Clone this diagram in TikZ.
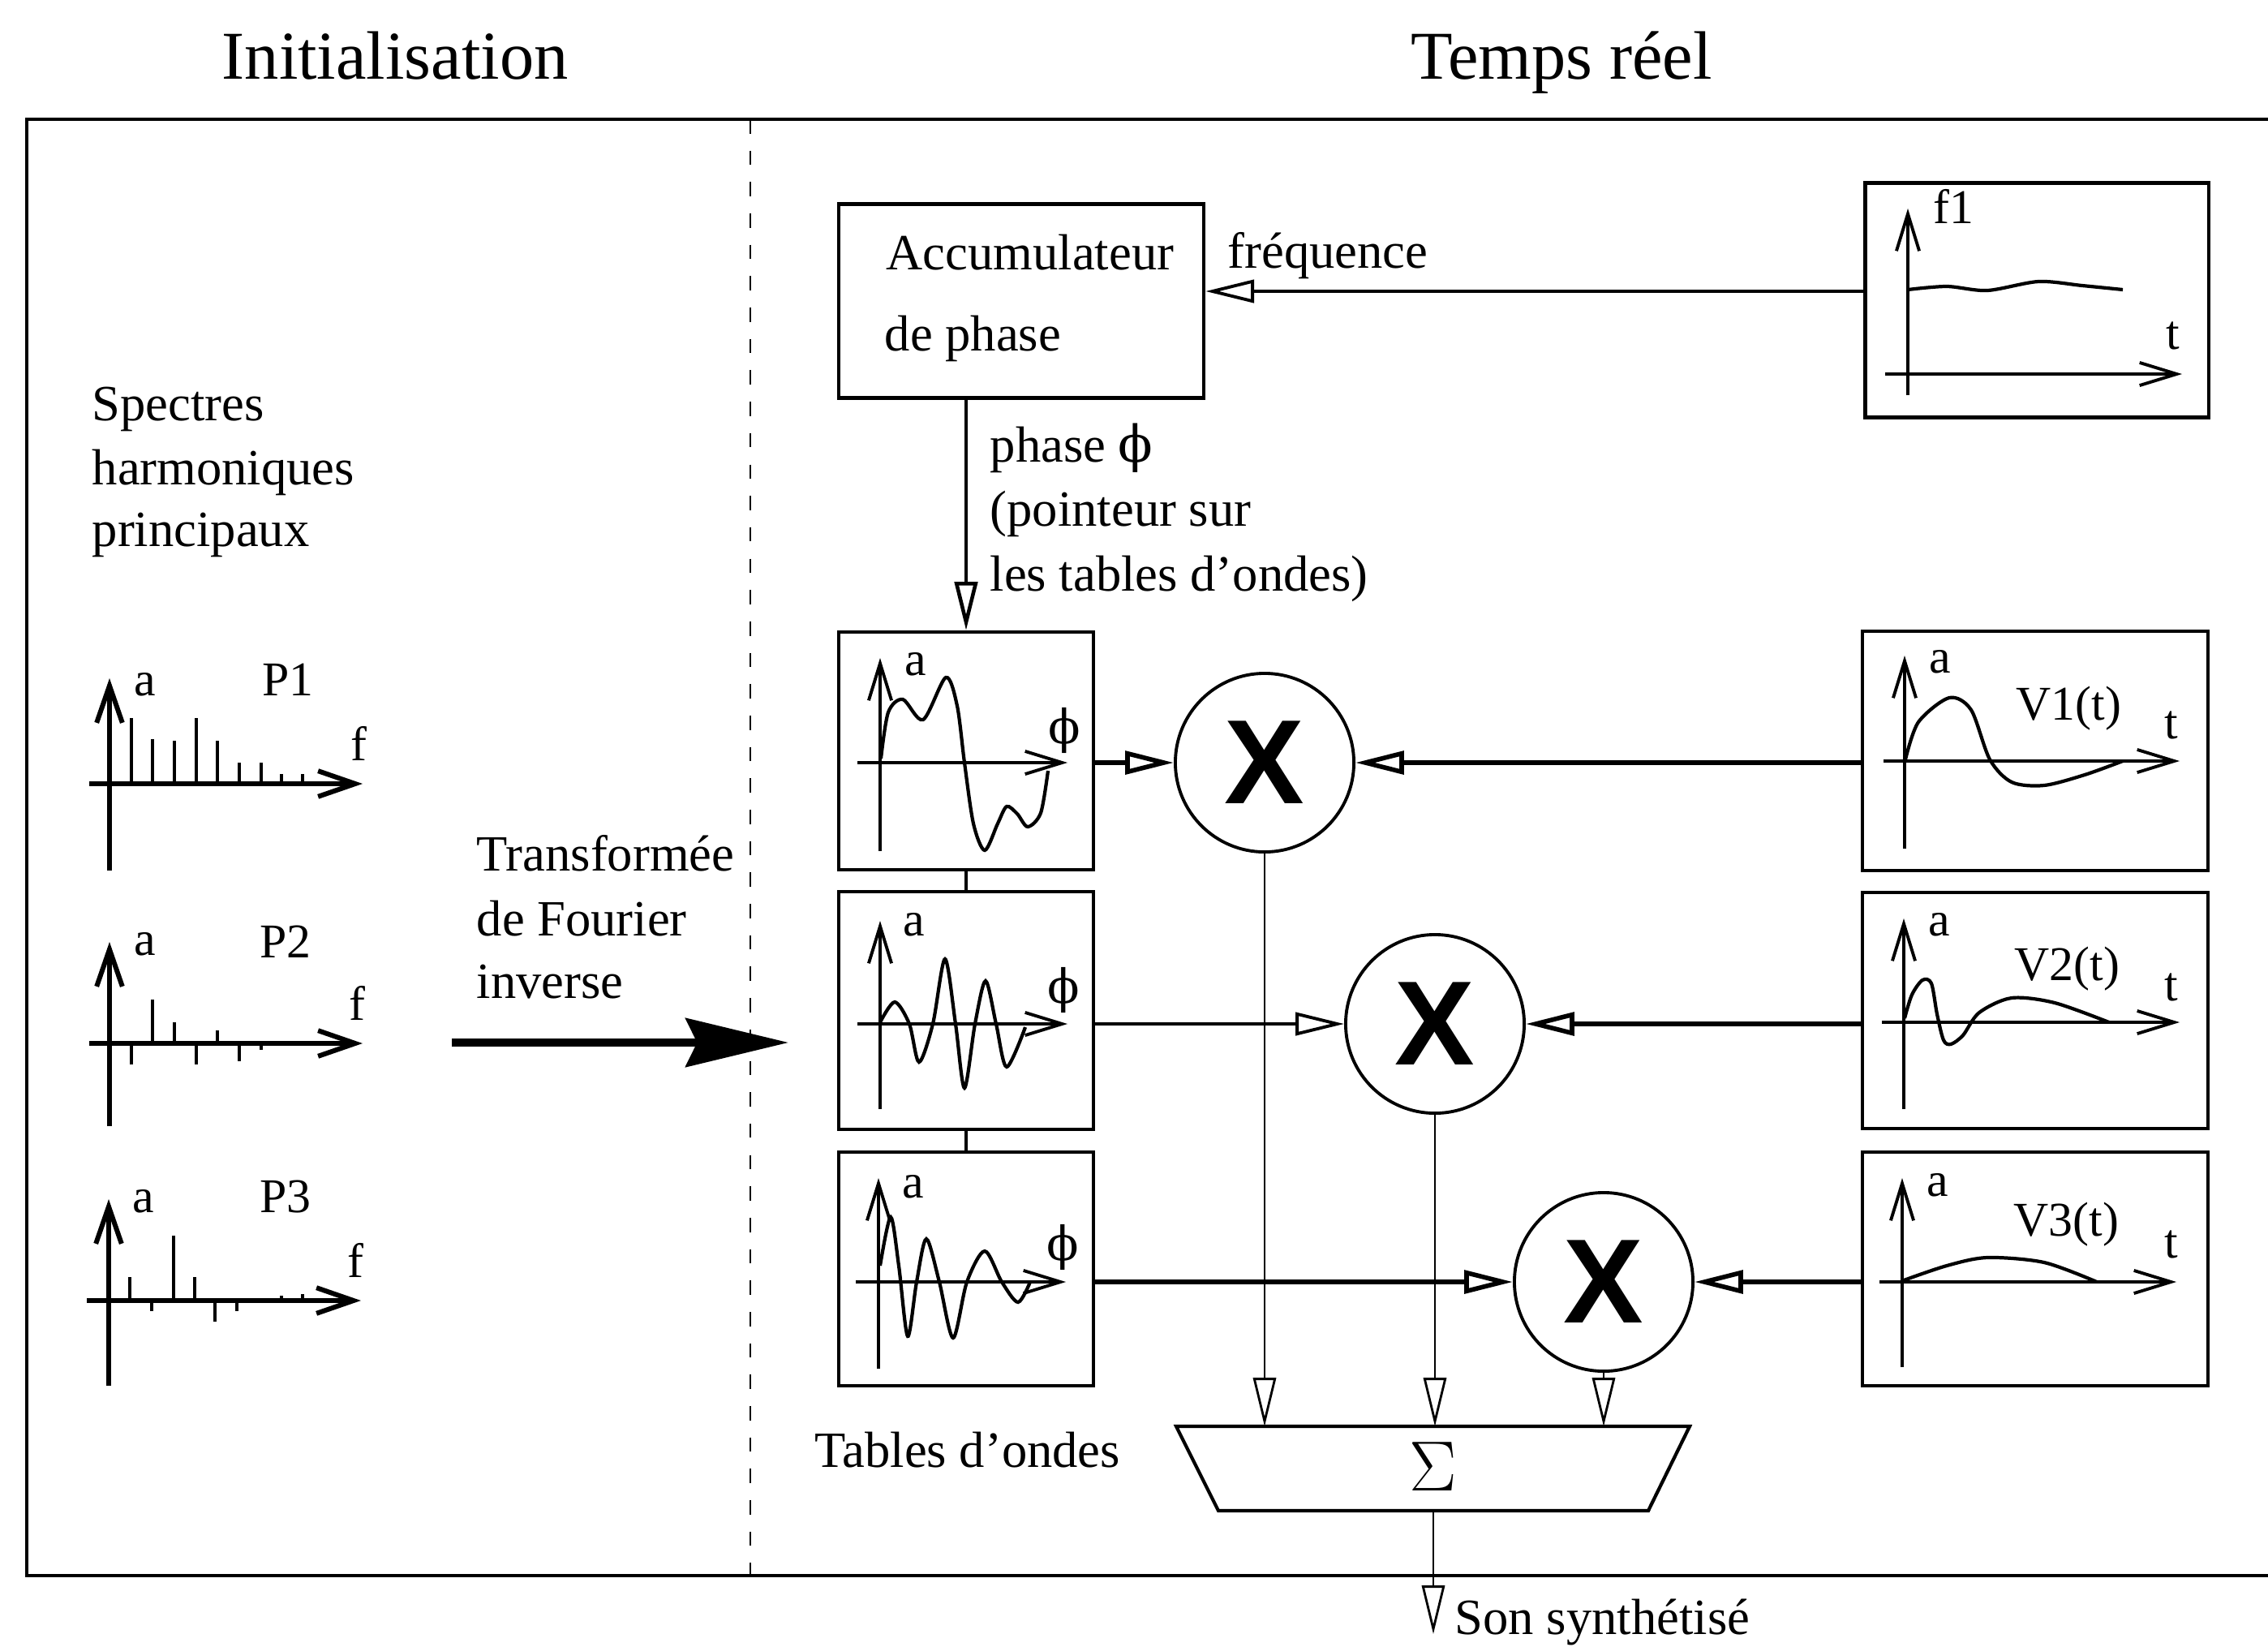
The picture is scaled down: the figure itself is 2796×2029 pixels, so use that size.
\documentclass[tikz,border=0pt]{standalone}
\usepackage{fontspec}
\setmainfont{Liberation Serif}
\newfontfamily\xsans{Liberation Sans}
\newfontfamily\phifont{DejaVu Serif}
\usetikzlibrary{arrows.meta}
\newcommand{\myphi}{{\phifont ϕ}}
\begin{document}
\begin{tikzpicture}[x=0.01cm, y=-0.01cm,
  txt/.style={inner sep=0pt, anchor=base west, font=\fontsize{17.8}{21}\selectfont},
  lbl/.style={inner sep=0pt, anchor=base west, font=\fontsize{17}{20}\selectfont},
  ttl/.style={inner sep=0pt, anchor=base, font=\fontsize{24}{28}\selectfont},
  phil/.style={inner sep=0pt, anchor=center, font=\fontsize{16.5}{20}\selectfont},
  box/.style={draw, line width=1.2pt, inner sep=0pt},
  mult/.style={circle, draw, line width=1.1pt, minimum size=2.2cm, inner sep=0pt, font=\xsans\bfseries\fontsize{42}{42}\selectfont},
  oarrow/.style={-{Triangle[open, length=17pt, width=8pt]}},
  conn/.style={line width=1.1pt, oarrow},
  thinconn/.style={line width=0.8pt, oarrow},
  thickconn/.style={line width=1.6pt, oarrow},
  axis/.style={line width=1.1pt, -{Straight Barb[length=13pt, width=8pt]}},
  saxis/.style={line width=1.7pt, -{Straight Barb[length=13pt, width=9pt]}},
  spl/.style={line width=1.4pt},
  wave/.style={line width=1.2pt},
]
\useasboundingbox (0,0) rectangle (2796,2029);

% titles
\node[ttl] (tinit) at (487,97) {Initialisation};
\node[ttl] (treel) at (1925,97) {Temps réel};

% outer frame and separator
\draw[line width=1.4pt] (2796,147) -- (33,147) -- (33,1942) -- (2796,1942);
\draw[line width=0.7pt, dash pattern=on 5pt off 6pt] (925,147) -- (925,1942);

% left column text
\node[txt] (sp1) at (113,518) {Spectres};
\node[txt] (sp2) at (113,597) {harmoniques};
\node[txt] (sp3) at (113,673) {principaux};

% spectrum P1
\draw[saxis] (135,1073) -- (135,836);
\draw[saxis] (110,966) -- (447,966);
\foreach \x/\y in {162/885,188/911,215/913,242/885,268/913,295/940,322/940,347/954,373/954}
  \draw[spl] (\x,966) -- (\x,\y);
\node[lbl] (p1a) at (165,857) {a};
\node[lbl] (p1n) at (323,857) {P1};
\node[lbl] (p1f) at (432,937) {f};

% spectrum P2
\draw[saxis] (135,1388) -- (135,1161);
\draw[saxis] (110,1286) -- (447,1286);
\foreach \x/\y in {162/1312,188/1232,215/1260,242/1312,268/1270,295/1308,322/1294}
  \draw[spl] (\x,1286) -- (\x,\y);
\node[lbl] (p2a) at (165,1177) {a};
\node[lbl] (p2n) at (320,1180) {P2};
\node[lbl] (p2f) at (430,1257) {f};

% spectrum P3
\draw[saxis] (134,1708) -- (134,1478);
\draw[saxis] (107,1603) -- (445,1603);
\foreach \x/\y in {160/1574,187/1616,214/1523,240/1574,265/1629,292/1616,347/1597,373/1595}
  \draw[spl] (\x,1603) -- (\x,\y);
\node[lbl] (p3a) at (163,1494) {a};
\node[lbl] (p3n) at (320,1494) {P3};
\node[lbl] (p3f) at (428,1574) {f};

% inverse Fourier transform
\node[txt] (tf1) at (587,1073) {Transformée};
\node[txt] (tf2) at (587,1153) {de Fourier};
\node[txt] (tf3) at (587,1230) {inverse};
\coordinate (bigs) at (557,1285);
\coordinate (bige) at (972,1285);
\draw[line width=2.8pt, -{Stealth[length=36pt, width=17pt, inset=4pt]}] (bigs) -- (bige);

% phase accumulator
\node[box, minimum width=4.5cm, minimum height=2.39cm] (acc) at (1259,371) {};
\node[txt] (acct1) at (1092,332) {Accumulateur};
\node[txt] (acct2) at (1090,432) {de phase};
\node[txt] (freq) at (1513,330) {fréquence};

% f1 box
\node[box, minimum width=4.23cm, minimum height=2.89cm] (f1box) at (2511,370) {};
\draw[axis] (2352,487) -- (2352,257);
\draw[axis] (2324,461) -- (2690,461);
\draw[wave] plot[smooth] coordinates {(2352,357) (2400,353) (2450,358) (2513,347) (2567,352) (2617,357)};
\node[lbl] (f1l) at (2383,275) {f1};
\node[lbl] (f1t) at (2670,430) {t};

\coordinate (fy) at (0,359);
\draw[conn] (f1box.west |- fy) -- (acc.east |- fy);

% wave tables
\node[box, minimum width=3.14cm, minimum height=2.93cm] (tab1) at (1191,925.5) {};
\node[box, minimum width=3.14cm, minimum height=2.93cm] (tab2) at (1191,1245.5) {};
\node[box, minimum width=3.14cm, minimum height=2.88cm] (tab3) at (1191,1564) {};
\draw[line width=1.1pt] (tab1.south) -- (tab2.north);
\draw[line width=1.1pt] (tab2.south) -- (tab3.north);

\draw[conn, line width=1.3pt] (acc.south -| tab1.north) -- (tab1.north);
\node[txt] (ph1) at (1220,569) {phase \myphi};
\node[txt] (ph2) at (1220,648) {(pointeur sur};
\node[txt] (ph3) at (1220,728) {les tables d’ondes)};

% table 1
\draw[axis] (1085,1049) -- (1085,811);
\draw[axis] (1057,940) -- (1316,940);
\draw[wave] plot[smooth] coordinates {(1086,935) (1095,878) (1113,862) (1138,887) (1166,835) (1180,870) (1189,940) (1200,1015) (1214,1048) (1230,1015) (1241,994) (1254,1003) (1267,1019) (1283,1002) (1292,950)};
\node[lbl] (t1a) at (1115,832) {a};
\node[phil] (t1p) at (1312,900) {\myphi};

% table 2
\draw[axis] (1085,1367) -- (1085,1135);
\draw[axis] (1057,1262) -- (1316,1262);
\draw[wave] plot[smooth] coordinates {(1085,1260) (1103,1235) (1121,1262) (1133,1309) (1150,1262) (1165,1182) (1178,1262) (1189,1341) (1202,1262) (1215,1209) (1228,1262) (1241,1315) (1264,1266)};
\node[lbl] (t2a) at (1113,1153) {a};
\node[phil] (t2p) at (1311,1220) {\myphi};

% table 3
\draw[axis] (1083,1687) -- (1083,1452);
\draw[axis] (1055,1580) -- (1314,1580);
\draw[wave] plot[smooth] coordinates {(1085,1560) (1098,1500) (1108,1560) (1119,1647) (1130,1580) (1142,1527) (1158,1580) (1175,1649) (1192,1580) (1214,1542) (1235,1580) (1255,1605) (1270,1580)};
\node[lbl] (t3a) at (1112,1476) {a};
\node[phil] (t3p) at (1310,1537) {\myphi};

\node[txt] (tabl) at (1004,1808) {Tables d’ondes};

% envelope boxes
\node[box, minimum width=4.26cm, minimum height=2.95cm] (v1) at (2509,925.5) {};
\node[box, minimum width=4.26cm, minimum height=2.91cm] (v2) at (2509,1245.5) {};
\node[box, minimum width=4.26cm, minimum height=2.88cm] (v3) at (2509,1564) {};

\draw[axis] (2348,1046) -- (2348,808);
\draw[axis] (2322,938) -- (2687,938);
\draw[wave] plot[smooth] coordinates {(2349,936) (2365,890) (2403,860) (2430,875) (2453,936) (2480,964) (2520,968) (2570,955) (2617,938)};
\node[lbl] (v1a) at (2378,829) {a};
\node[lbl] (v1n) at (2485,887) {V1(t)};
\node[lbl] (v1t) at (2668,910) {t};

\draw[axis] (2347,1367) -- (2347,1132);
\draw[axis] (2320,1260) -- (2687,1260);
\draw[wave] plot[smooth] coordinates {(2348,1255) (2357,1226) (2370,1208) (2381,1212) (2388,1250) (2396,1282) (2405,1287) (2420,1276) (2440,1248) (2480,1230) (2533,1236) (2600,1260)};
\node[lbl] (v2a) at (2377,1153) {a};
\node[lbl] (v2n) at (2483,1208) {V2(t)};
\node[lbl] (v2t) at (2668,1233) {t};

\draw[axis] (2345,1685) -- (2345,1452);
\draw[axis] (2317,1580) -- (2683,1580);
\draw[wave] plot[smooth] coordinates {(2347,1578) (2400,1560) (2450,1550) (2520,1556) (2585,1580)};
\node[lbl] (v3a) at (2375,1474) {a};
\node[lbl] (v3n) at (2482,1523) {V3(t)};
\node[lbl] (v3t) at (2668,1550) {t};

% multipliers
\node[mult] (m1) at (1559,940) {X};
\node[mult] (m2) at (1769,1262) {X};
\node[mult] (m3) at (1977,1580) {X};

\draw[thickconn] (tab1.east |- m1) -- (m1.west);
\draw[conn] (tab2.east |- m2) -- (m2.west);
\draw[thickconn] (tab3.east |- m3) -- (m3.west);
\draw[thickconn] (v1.west |- m1) -- (m1.east);
\draw[thickconn] (v2.west |- m2) -- (m2.east);
\draw[thickconn] (v3.west |- m3) -- (m3.east);

% summation
\draw[line width=1.2pt] (1450,1758) -- (2083,1758) -- (2032,1862) -- (1502,1862) -- cycle;
\node[inner sep=0pt, font=\fontsize{27}{27}\selectfont] (sum) at (1767,1808) {$\Sigma$};
\coordinate (sumtop) at (1767,1758);
\coordinate (sumbot) at (1767,1862);
\coordinate (out) at (1767,2014);

\draw[thinconn] (m1.south) -- (m1.south |- sumtop);
\draw[thinconn] (m2.south) -- (m2.south |- sumtop);
\draw[thinconn] (m3.south) -- (m3.south |- sumtop);
\draw[thinconn] (sumbot) -- (out);
\node[txt] (son) at (1793,2014) {Son synthétisé};
\end{tikzpicture}
\end{document}
